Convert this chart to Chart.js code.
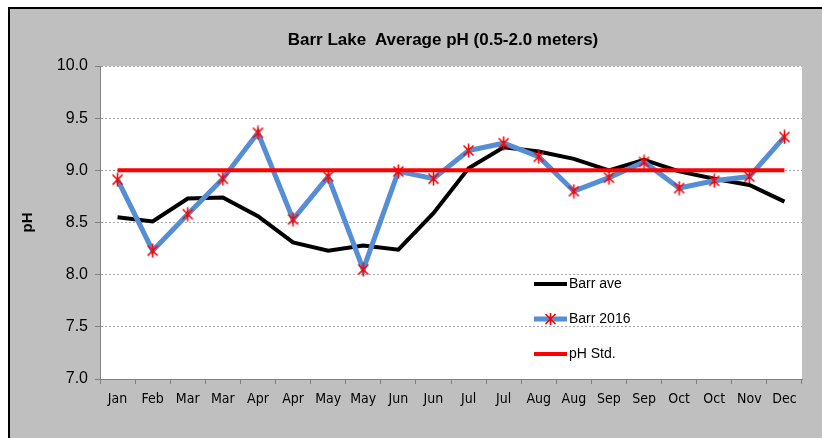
<!DOCTYPE html>
<html>
<head>
<meta charset="utf-8">
<script src="https://cdn.jsdelivr.net/npm/chart.js@4.4.1/dist/chart.umd.min.js"></script>
<style>
  html, body { margin: 0; padding: 0; background: #fff; }
  #frame {
    position: absolute; left: 8px; top: 7px; width: 822px; height: 440px;
    background: #bfbfbf; border-left: 2px solid #000; border-top: 2px solid #000;
  }
  #c { position: absolute; left: 0; top: 0; }
  #title {
    position: absolute; left: 443px; top: 30px; transform: translateX(-50%);
    font: bold 17px "Liberation Sans", Arial, sans-serif; white-space: pre; color: #000;
  }
  #legend { position: absolute; left: 534px; top: 274px; font: 14px "Liberation Sans", Arial, sans-serif; }
  .row { position: absolute; left: 0; height: 20px; white-space: nowrap; }
  .row svg { position: absolute; left: 0; top: 0; }
  .row span { position: absolute; left: 35px; top: 1px; }
</style>
</head>
<body>
<div id="frame"></div>
<canvas id="c" width="822" height="438"></canvas>
<div id="title">Barr Lake  Average pH (0.5-2.0 meters)</div>
<div id="legend">
  <div class="row" style="top:0px"><svg width="34" height="20"><line x1="0" y1="10" x2="33" y2="10" stroke="#000" stroke-width="4"/></svg><span>Barr ave</span></div>
  <div class="row" style="top:35px"><svg width="34" height="20"><line x1="0" y1="10" x2="33" y2="10" stroke="#558ed5" stroke-width="5"/><g stroke="#ff0000" stroke-width="1.6"><line x1="11.5" y1="5" x2="21.5" y2="15"/><line x1="21.5" y1="5" x2="11.5" y2="15"/><line x1="16.5" y1="4" x2="16.5" y2="16"/></g></svg><span>Barr 2016</span></div>
  <div class="row" style="top:70px"><svg width="34" height="20"><line x1="0" y1="10" x2="33" y2="10" stroke="#ff0000" stroke-width="4"/></svg><span>pH Std.</span></div>
</div>
<script>
var months = ["Jan","Feb","Mar","Mar","Apr","Apr","May","May","Jun","Jun",
              "Jul","Jul","Aug","Aug","Sep","Sep","Oct","Oct","Nov","Dec"];
var barrAve = [8.55,8.51,8.73,8.74,8.56,8.31,8.23,8.28,8.24,8.59,
               9.02,9.22,9.18,9.11,9.00,9.10,8.99,8.92,8.86,8.70];
var barr2016 = [8.91,8.23,8.58,8.92,9.36,8.53,8.94,8.05,8.99,8.92,
                9.19,9.26,9.13,8.80,8.93,9.08,8.83,8.90,8.94,9.32];
var phStd = [9,9,9,9,9,9,9,9,9,9,9,9,9,9,9,9,9,9,9,9];
var yTicks = [7.0,7.5,8.0,8.5,9.0,9.5,10.0];

// red asterisk marker
var mark = document.createElement("canvas");
mark.width = 13; mark.height = 15;
var m = mark.getContext("2d");
m.strokeStyle = "#ff0000"; m.lineWidth = 1.6;
m.beginPath();
m.moveTo(1.5,2.5); m.lineTo(11.5,12.5);
m.moveTo(11.5,2.5); m.lineTo(1.5,12.5);
m.moveTo(6.5,0.5); m.lineTo(6.5,14.5);
m.stroke();

var whiteArea = {
  id: "whiteArea",
  beforeDraw: function(chart) {
    var a = chart.chartArea, ctx = chart.ctx;
    ctx.save();
    ctx.fillStyle = "#fff";
    ctx.fillRect(a.left, a.top, a.right - a.left, a.bottom - a.top);
    ctx.restore();
  }
};

new Chart("c", {
  type: "line",
  data: {
    labels: months,
    datasets: [{
      label: "pH Std.",
      data: phStd,
      borderColor: "#ff0000",
      borderWidth: 4,
      pointRadius: 0,
      tension: 0,
      order: 1
    }, {
      label: "Barr 2016",
      data: barr2016,
      borderColor: "#558ed5",
      borderWidth: 5,
      pointStyle: mark,
      pointRadius: 6,
      tension: 0,
      order: 2
    }, {
      label: "Barr ave",
      data: barrAve,
      borderColor: "#000",
      borderWidth: 4,
      pointRadius: 0,
      tension: 0,
      order: 3
    }]
  },
  options: {
    responsive: false,
    animation: false,
    layout: { padding: { top: 66, right: 20, bottom: 0, left: 0 } },
    plugins: { legend: { display: false }, tooltip: { enabled: false } },
    scales: {
      x: {
        offset: true,
        afterFit: function(s) { s.height = 59; },
        grid: { offset: true, drawOnChartArea: false, tickLength: 5, tickColor: "#808080" },
        border: { color: "#808080", width: 1 },
        ticks: { color: "#000", padding: 7, maxRotation: 0, autoSkip: false,
                 font: { family: "'Liberation Sans Narrow', 'Arial Narrow', 'DejaVu Sans Condensed', sans-serif", size: 14 } }
      },
      y: {
        min: 7, max: 10,
        afterFit: function(s) { s.width = 100; },
        afterBuildTicks: function(s) { s.ticks = yTicks.map(function(v) { return { value: v }; }); },
        grid: { color: "#a6a6a6", tickLength: 5, tickColor: "#808080", tickBorderDash: [0, 0] },
        border: { color: "#808080", width: 1, dash: [2, 2] },
        ticks: { color: "#000", padding: 7, callback: function(v) { return v.toFixed(1); },
                 font: { family: "'Liberation Sans', Arial, sans-serif", size: 16 } },
        title: { display: true, text: "pH", color: "#000", padding: { top: 19, bottom: 0 },
                 font: { family: "'Liberation Sans', Arial, sans-serif", size: 15, weight: "bold" } }
      }
    }
  },
  plugins: [whiteArea]
});
</script>
</body>
</html>
